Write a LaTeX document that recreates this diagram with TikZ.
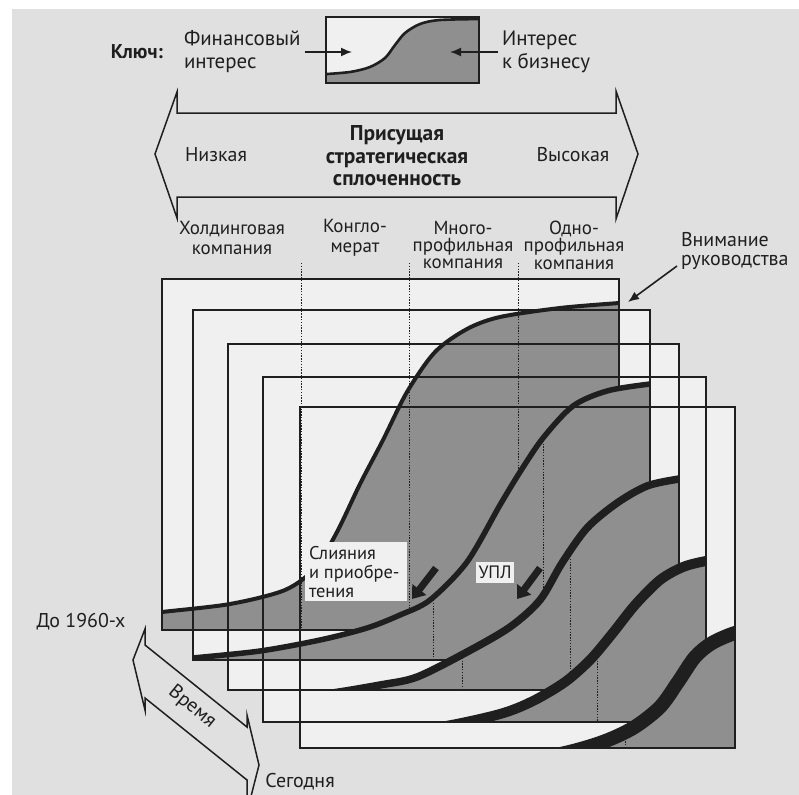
\documentclass[tikz,border=0pt]{standalone}
\usepackage{fontspec}
\setmainfont{PT Sans}
\usetikzlibrary{arrows.meta}
\definecolor{pagegray}{gray}{0.88}
\definecolor{paper}{gray}{0.94}
\definecolor{tone}{gray}{0.56}
\definecolor{ink}{gray}{0.12}
\tikzset{
  frame/.style={draw=ink, line width=1.1bp},
  guide/.style={draw=ink, line width=0.9bp, dash pattern=on 1.3bp off 1.5bp},
  trend/.style={draw=ink, line cap=round},
  txt/.style={font=\fontsize{20}{22}\selectfont, text=ink, inner sep=0pt, outer sep=0pt},
  collbl/.style={txt, align=center},
  hdr/.style={font=\bfseries\fontsize{21.5}{22.5}\selectfont, text=ink, inner sep=0pt, align=center},
  pointer/.style={draw=ink, line width=1.6bp, -{Latex[length=11bp,width=9bp]}},
  fatarrow/.style={draw=ink, line width=7bp, -{Triangle[length=12bp,width=17bp]}},
  outline/.style={draw=ink, line width=1.5bp, line join=miter},
  tag/.style={fill=paper, inner sep=0pt, outer sep=0pt},
}
\begin{document}
\begin{tikzpicture}[x=1bp,y=-1bp]
% page
\fill[white] (0,0) rectangle (799,795);
\fill[pagegray] (12,9) rectangle (799,795);
\useasboundingbox (0,0) rectangle (799,795);

% ---------- key ----------
\node[txt, font=\bfseries\fontsize{20}{22}\selectfont] (key) at (137,52) {Ключ:};
\node[txt, align=left, anchor=west, font=\fontsize{21}{23}\selectfont] (fin) at (184,52) {Финансовый\\интерес};
\node[txt, align=left, anchor=west, font=\fontsize{21}{23}\selectfont] (biz) at (502,52) {Интерес\\к бизнесу};
\fill[paper] (326,17) rectangle (479,83);
\begin{scope}
  \clip (326,17) rectangle (479,83);
  \fill[tone] plot[smooth] coordinates {(320,74.5) (350,72) (370,67) (385,58) (395,45) (405,33) (420,24) (440,20) (485,19)} -- (485,83) -- (320,83) -- cycle;
  \draw[trend, line width=2.6bp] plot[smooth] coordinates {(320,74.5) (350,72) (370,67) (385,58) (395,45) (405,33) (420,24) (440,20) (485,19)};
\end{scope}
\draw[frame, line width=1.5bp] (326,17) rectangle (479,83);
\coordinate (finend) at (352,52);
\coordinate (bizend) at (450,52);
\draw[pointer, shorten <=4bp] (fin.east) -- (finend);
\draw[pointer, shorten <=4bp] (biz.west) -- (bizend);

% ---------- cohesion scale ----------
\draw[outline] (155,154) -- (177,92) -- (177,113) -- (616,113) -- (616,91) -- (638,154) -- (616,219) -- (616,197) -- (177,197) -- (177,218) -- cycle;
\node[txt] (low) at (216,155) {Низкая};
\node[txt] (high) at (573,155) {Высокая};
\node[hdr] (cohesion) at (397,156) {Присущая\\стратегическая\\сплоченность};

% ---------- column labels ----------
\node[collbl, font=\fontsize{19}{20}\selectfont] (holding) at (232,238) {Холдинговая\\компания};
\node[collbl, font=\fontsize{19}{20}\selectfont] (conglo) at (355,238) {Конгло-\\мерат};
\node[collbl, font=\fontsize{19}{17.5}\selectfont] (multi) at (463,245) {Много-\\профильная\\компания};
\node[collbl, font=\fontsize{19}{17.5}\selectfont] (single) at (574,245) {Одно-\\профильная\\компания};
\node[txt, align=left, anchor=west, font=\fontsize{20}{18.5}\selectfont] (attention) at (681,251) {Внимание\\руководства};

% ---------- layers: light interiors ----------
\fill[paper] (162,279) rectangle (619,630);
\fill[paper] (193,310) rectangle (650,660);
\fill[paper] (228,344) rectangle (679,690);
\fill[paper] (263,377) rectangle (706,722);
\fill[paper] (300,407) rectangle (735,748);

% layer 1
\begin{scope}
  \clip (162,279) rectangle (619,630);
  \fill[tone] plot[smooth] coordinates {(150,614) (162,612) (230,604) (285,590) (315,568) (337,532) (360,484) (383,440) (407,392) (435,352) (467,329) (500,317) (560,308) (619,303) (640,301.5)} -- (640,640) -- (150,640) -- cycle;
\end{scope}
\draw[frame] (162,279) rectangle (619,630);
\draw[guide] (301,263) -- (301,630);
\draw[guide] (409,263) -- (409,630);
\draw[guide] (518,263) -- (518,630);
\begin{scope}
  \clip (162,279) rectangle (619,630);
  \draw[trend, line width=4bp] plot[smooth] coordinates {(150,614) (162,612) (230,604) (285,590) (315,568) (337,532) (360,484) (383,440) (407,392) (435,352) (467,329) (500,317) (560,308) (619,303) (640,301.5)};
\end{scope}

% layer 2
\begin{scope}
  \clip (193,310) rectangle (650,660);
  \fill[tone] plot[smooth] coordinates {(175,660) (193,658) (260,651) (320,640) (367,628) (400,615) (430,600) (467,562) (500,505) (520,472) (543,438) (573,406) (607,391) (650,384) (670,383)} -- (670,670) -- (175,670) -- cycle;
\end{scope}
\draw[frame] (193,310) rectangle (650,660);
\draw[guide] (433,600) -- (433,660);
\draw[guide] (543,438) -- (543,660);
\begin{scope}
  \clip (193,310) rectangle (650,660);
  \draw[trend, line width=5.5bp] plot[smooth] coordinates {(175,660) (193,658) (260,651) (320,640) (367,628) (400,615) (430,600) (467,562) (500,505) (520,472) (543,438) (573,406) (607,391) (650,384) (670,383)};
\end{scope}

% layer 3
\begin{scope}
  \clip (228,344) rectangle (679,690);
  \fill[tone] plot[smooth] coordinates {(270,699) (325,694) (380,685) (417,677) (467,652) (510,627) (540,600) (562,563) (587,528) (617,503) (647,486) (679,479) (700,477)} -- (700,700) -- (270,700) -- cycle;
\end{scope}
\draw[frame] (228,344) rectangle (679,690);
\draw[guide] (462,655) -- (462,690);
\draw[guide] (570,556) -- (570,690);
\begin{scope}
  \clip (228,344) rectangle (679,690);
  \draw[trend, line width=7.5bp] plot[smooth] coordinates {(270,699) (325,694) (380,685) (417,677) (467,652) (510,627) (540,600) (562,563) (587,528) (617,503) (647,486) (679,479) (700,477)};
\end{scope}

% layer 4
\begin{scope}
  \clip (263,377) rectangle (706,722);
  \fill[tone] plot[smooth] coordinates {(380,732) (440,727) (500,714) (533,701) (565,682) (590,660) (612,634) (635,605) (660,580) (683,567) (706,561) (725,559)} -- (725,735) -- (380,735) -- cycle;
\end{scope}
\draw[frame] (263,377) rectangle (706,722);
\draw[guide] (597,655) -- (597,722);
\begin{scope}
  \clip (263,377) rectangle (706,722);
  \draw[trend, line width=10bp] plot[smooth] coordinates {(380,732) (440,727) (500,714) (533,701) (565,682) (590,660) (612,634) (635,605) (660,580) (683,567) (706,561) (725,559)};
\end{scope}

% layer 5
\begin{scope}
  \clip (300,407) rectangle (735,748);
  \fill[tone] plot[smooth] coordinates {(490,762) (555,755) (600,743) (633,728) (660,707) (678,682) (695,657) (712,643) (735,633) (755,630)} -- (755,765) -- (490,765) -- cycle;
\end{scope}
\draw[frame] (300,407) rectangle (735,748);
\draw[guide] (625,730) -- (625,748);
\begin{scope}
  \clip (300,407) rectangle (735,748);
  \draw[trend, line width=14bp] plot[smooth] coordinates {(490,762) (555,755) (600,743) (633,728) (660,707) (678,682) (695,657) (712,643) (735,633) (755,630)};
\end{scope}

% ---------- annotations ----------
\node[tag, minimum width=102bp, minimum height=59bp] (mabox) at (356,571.5) {};
\node[txt, align=left, anchor=west, font=\fontsize{18.5}{19.5}\selectfont] (ma) at (309,572) {Слияния\\и приобре-\\тения};
\node[tag, minimum width=38bp, minimum height=21bp] (uplbox) at (495,572) {};
\node[txt, font=\fontsize{18}{20}\selectfont] (upl) at (495,572) {УПЛ};
\coordinate (matip) at (412,599);
\coordinate (upltip) at (517,599);
\draw[fatarrow] (436,568) -- (matip);
\draw[fatarrow] (540,568) -- (upltip);
\coordinate (attip) at (628,302);
\draw[pointer] (677,266) -- (attip);

% ---------- time axis ----------
\draw[outline] (133,660) -- (145,629) -- (145,645) -- (247,727) -- (247,715) -- (259,765) -- (247,812) -- (247,780) -- (145,698) -- (145,710) -- cycle;
\node[txt, rotate=-39] (time) at (192,707) {Время};
\node[txt] (past) at (81,622) {До 1960-х};
\node[txt] (now) at (300,782) {Сегодня};
\end{tikzpicture}
\end{document}
